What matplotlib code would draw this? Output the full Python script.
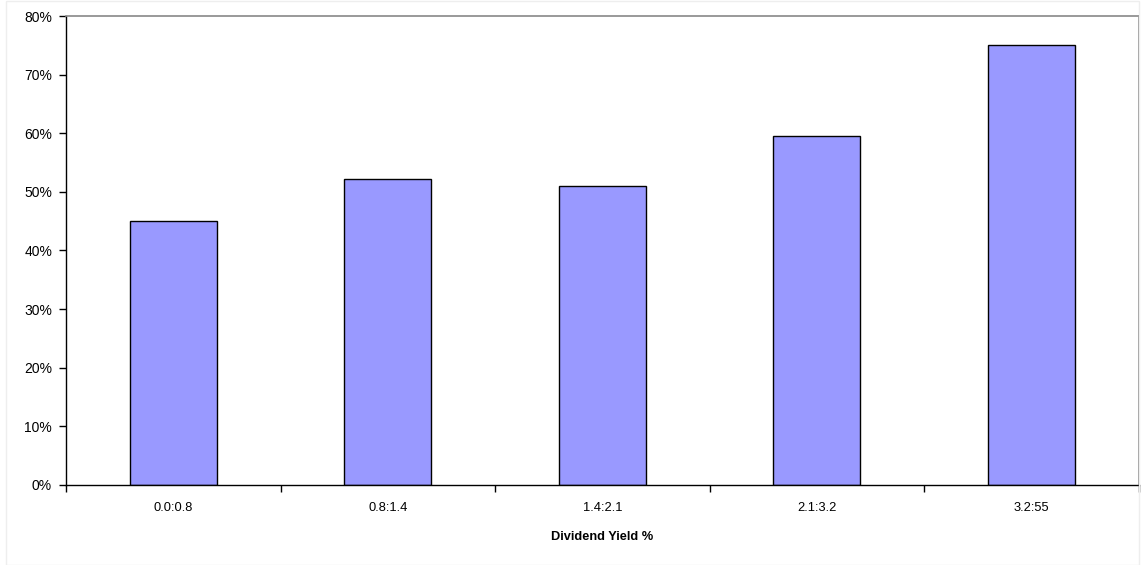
import matplotlib
matplotlib.use("Agg")
import matplotlib.pyplot as plt
from matplotlib.ticker import FixedLocator, PercentFormatter
from matplotlib.patches import Rectangle

categories = ["0.0:0.8", "0.8:1.4", "1.4:2.1", "2.1:3.2", "3.2:55"]
values = [45.0, 52.2, 51.0, 59.6, 75.1]
yticks = [0, 10, 20, 30, 40, 50, 60, 70, 80]

plt.rcParams["font.family"] = ["Liberation Sans", "DejaVu Sans"]

fig = plt.figure(figsize=(11.45, 5.65), dpi=100)
fig.patches.append(Rectangle((0.005, 0.0), 0.99, 0.999, transform=fig.transFigure,
                             fill=False, edgecolor="#eeeeee", linewidth=1))
ax = fig.add_axes([66 / 1145, 1 - 485 / 565, (1138.5 - 66) / 1145, (485 - 16) / 565])

x = range(len(categories))
ax.bar(x, values, width=0.405, color="#9999FF", edgecolor="black", linewidth=1)

ax.set_xlim(-0.5, len(categories) - 0.5)
ax.set_ylim(0, 80)
ax.set_yticks(yticks)
ax.yaxis.set_major_formatter(PercentFormatter(decimals=0))

ax.set_xticks(list(x))
ax.set_xticklabels(categories)
ax.xaxis.set_minor_locator(FixedLocator([i - 0.5 for i in range(len(categories) + 1)]))
ax.tick_params(axis="x", which="major", length=0, pad=12, labelsize=9.3)
ax.tick_params(axis="x", which="minor", length=5, width=1, color="black", direction="out")
ax.tick_params(axis="y", length=5, width=1, color="black", direction="out", pad=5, labelsize=10)

for side in ("left", "bottom"):
    ax.spines[side].set_color("black")
    ax.spines[side].set_linewidth(1)
for side in ("top", "right"):
    ax.spines[side].set_color("#888888")
    ax.spines[side].set_linewidth(1.2)

ax.set_xlabel("Dividend Yield %", fontweight="bold", fontsize=9.2, labelpad=12.5)

fig.savefig("out.png", dpi=100)
